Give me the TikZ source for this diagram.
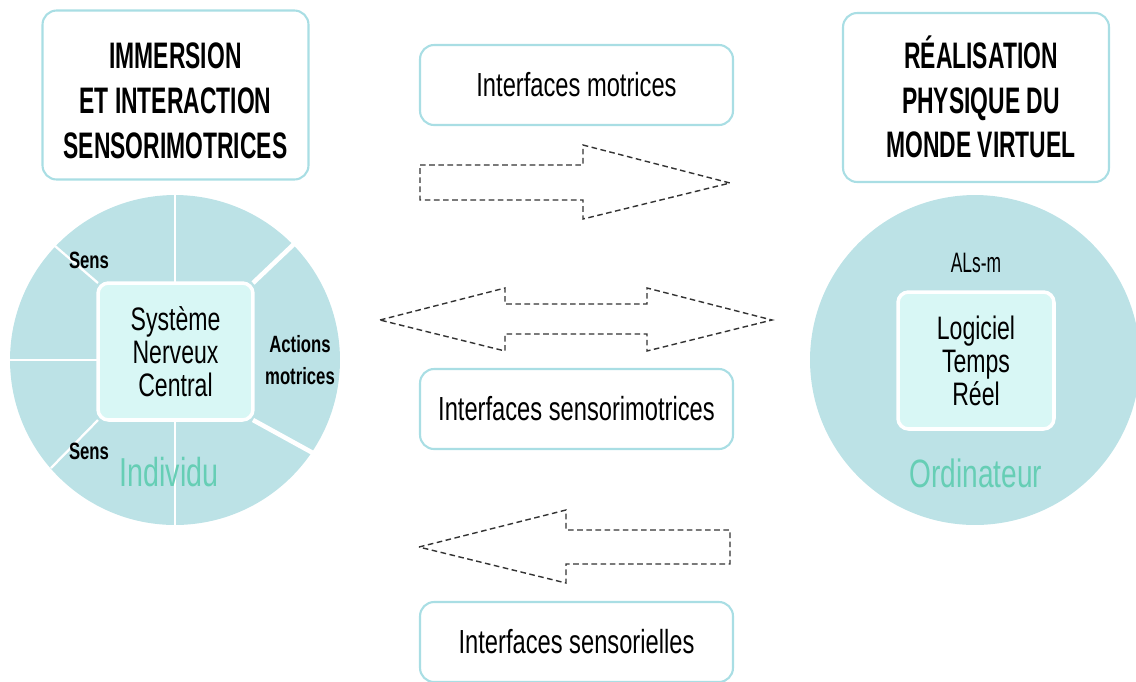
\documentclass[tikz,border=0pt]{standalone}
\usepackage{fontspec}
\setmainfont{Liberation Sans}[FakeStretch=0.62]
\newfontfamily\condB{Liberation Sans}[FakeStretch=0.71]
\definecolor{circfill}{HTML}{BCE2E6}
\definecolor{innerfill}{HTML}{D8F7F5}
\definecolor{boxline}{HTML}{A9DEE4}
\definecolor{tealtxt}{HTML}{66CEB5}
\begin{document}
\begin{tikzpicture}[x=0.02cm,y=-0.02cm,
  titlebox/.style={draw=boxline,line width=1.2pt,rounded corners=8pt,fill=white,minimum width=5.32cm,minimum height=3.38cm},
  titletxt/.style={align=center,font=\fontsize{21}{25.5}\selectfont\bfseries},
  ifbox/.style={draw=boxline,line width=1.2pt,rounded corners=8pt,fill=white,minimum width=6.26cm,minimum height=1.6cm,font=\condB\fontsize{19}{22}\selectfont},
  bigcirc/.style={circle,fill=circfill,minimum size=6.6cm,inner sep=0pt},
  innerbox/.style={draw=white,line width=2pt,rounded corners=6pt,fill=innerfill,align=center,font=\condB\fontsize{18.5}{18.8}\selectfont},
  sep/.style={draw=white,line width=1.3pt},
  septhick/.style={draw=white,line width=2.6pt},
  small/.style={font=\condB\fontsize{13.4}{18}\selectfont\bfseries,align=center},
  tealbig/.style={text=tealtxt,font=\condB\fontsize{22.5}{24}\selectfont},
  arrowshape/.style={draw=black!80,line width=0.8pt,dash pattern=on 3.2pt off 2pt}
]
\useasboundingbox (0,0) rectangle (1136,681);

% title boxes
\node[titlebox] (tl) at (175.5,95) {};
\node[titletxt] (tltxt) at (175.5,101) {IMMERSION\\ET INTERACTION\\SENSORIMOTRICES};
\node[titlebox] (tr) at (976,97.5) {};
\node[titletxt] (trtxt) at (981,97) {RÉALISATION\\PHYSIQUE DU\\MONDE VIRTUEL};

% interface boxes
\node[ifbox] (im) at (576.5,85) {Interfaces motrices};
\node[ifbox] (ism) at (576.5,409) {Interfaces sensorimotrices};
\node[ifbox] (isl) at (576.5,642) {Interfaces sensorielles};

% left circle
\node[bigcirc] (ind) at (175,360) {};
\coordinate (sqtl) at (98,283);
\coordinate (sqtr) at (253,283);
\coordinate (sqbl) at (98,420);
\coordinate (sqbr) at (253,420);
\coordinate (etop) at (175,195);
\coordinate (ebot) at (175,525);
\coordinate (eleft) at (10,360);
\coordinate (eul) at (55,246);
\coordinate (eur) at (294,244);
\coordinate (elr) at (313,453);
\coordinate (ell) at (51,468);
\draw[sep] (etop) -- (175,283);
\draw[sep] (ebot) -- (175,420);
\draw[sep] (eleft) -- (98,360);
\draw[sep] (eul) -- (sqtl);
\draw[septhick] (eur) -- (sqtr);
\draw[septhick] (elr) -- (sqbr);
\draw[sep] (ell) -- (sqbl);
\node[innerbox,minimum width=3.1cm,minimum height=2.74cm] (snc) at (175.5,351.5) {Système\\Nerveux\\Central};
\node[small] (sens1) at (89,260) {Sens};
\node[small] (sens2) at (89,451) {Sens};
\node[small] (act) at (300,360) {Actions\\motrices};
\node[tealbig,font=\condB\fontsize{23}{24}\selectfont] (indtxt) at (169,472) {Individu};

% right circle
\node[bigcirc] (ord) at (975,360) {};
\node[innerbox,minimum width=3.12cm,minimum height=2.74cm] (ltr) at (976,360.5) {Logiciel\\Temps\\Réel};
\node[font=\fontsize{16}{18}\selectfont] (als) at (976,263) {ALs-m};
\node[tealbig] (ordtxt) at (976,473) {Ordinateur};

% arrows
\draw[arrowshape] (420,165) -- (583,165) -- (583,145) -- (730,183) -- (583,219) -- (583,200) -- (420,200) -- cycle;
\draw[arrowshape] (380,320) -- (505,288) -- (505,304) -- (647,304) -- (647,288) -- (772,320) -- (647,351) -- (647,334) -- (505,334) -- (505,351) -- cycle;
\draw[arrowshape] (419,547) -- (566,510) -- (566,530) -- (730,530) -- (730,564) -- (566,564) -- (566,583) -- cycle;
\end{tikzpicture}
\end{document}
